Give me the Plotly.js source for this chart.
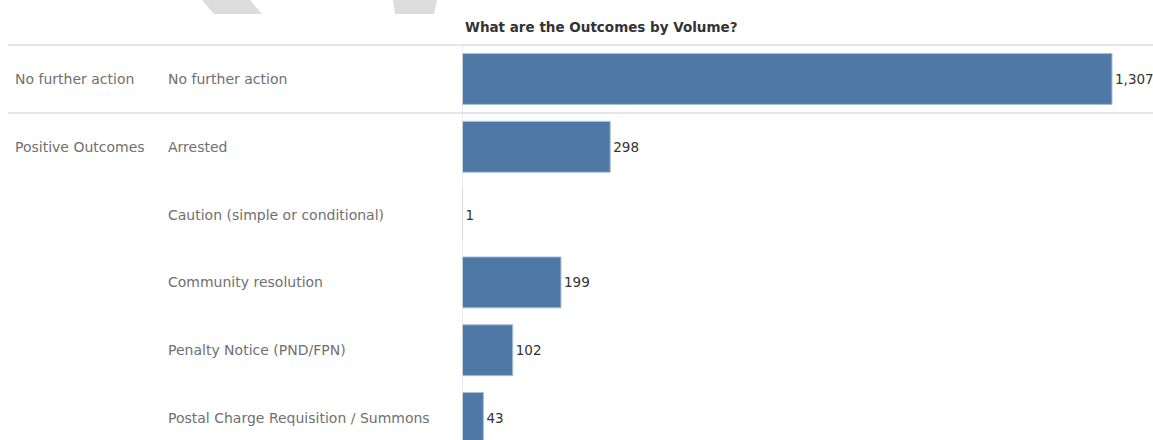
<!DOCTYPE html>
<html><head><meta charset="utf-8">
<script src="https://cdn.plot.ly/plotly-3.0.1.min.js"></script>
<style>html,body{margin:0;padding:0;background:#fff;}#chart{width:1153px;height:440px;}</style>
</head><body><div id="chart"></div>
<script>
const groups = ["No further action","Positive Outcomes","","","",""];
const outcomes = ["No further action","Arrested","Caution (simple or conditional)","Community resolution","Penalty Notice (PND/FPN)","Postal Charge Requisition / Summons"];
const volumes = [1307,298,1,199,102,43];
const chartTitle = "What are the Outcomes by Volume?";

const W=1153,H=440;
const px = v => v/W;
const py = v => 1 - v/H;
const labelFont = {family:'DejaVu Sans',size:14,color:'#707070'};

const annotations = [];
outcomes.forEach((o,i)=>{
  annotations.push({xref:'paper',yref:'y',x:px(166),y:i,text:o,showarrow:false,xanchor:'left',yanchor:'middle',font:labelFont});
  if(groups[i]) annotations.push({xref:'paper',yref:'y',x:px(13),y:i,text:groups[i],showarrow:false,xanchor:'left',yanchor:'middle',font:labelFont});
});
annotations.push({xref:'paper',yref:'paper',x:px(463),y:py(27),text:'<b>'+chartTitle+'</b>',showarrow:false,xanchor:'left',yanchor:'middle',font:{family:'DejaVu Sans',size:13.5,color:'#333'}});

const shapes = [
  {type:'line',xref:'paper',yref:'y',x0:px(8),x1:1,y0:-0.5,y1:-0.5,line:{color:'#dedede',width:1.5}},
  {type:'line',xref:'paper',yref:'y',x0:px(8),x1:1,y0:0.5,y1:0.5,line:{color:'#dedede',width:1.5}},
  {type:'line',xref:'x',yref:'y',x0:0,x1:0,y0:-0.5,y1:6,line:{color:'#e3e3e3',width:1.5}},
  {type:'path',xref:'paper',yref:'paper',path:`M ${px(202)} ${py(0)} L ${px(250)} ${py(0)} L ${px(262)} ${py(14)} L ${px(214)} ${py(14)} Z`,fillcolor:'#dcdcdc',line:{width:0}},
  {type:'path',xref:'paper',yref:'paper',path:`M ${px(393)} ${py(0)} L ${px(437)} ${py(0)} L ${px(434)} ${py(14)} L ${px(395)} ${py(14)} Z`,fillcolor:'#dcdcdc',line:{width:0}}
];

const pitch = 67.8, c0 = 79;
const data = [{
  type:'bar',orientation:'h',
  y: outcomes.map((o,i)=>i),
  x: volumes,
  width:0.75,
  marker:{color:'#4e79a7',line:{color:'#a9bdd3',width:1}},
  text: volumes.map(v=>v.toLocaleString('en-US')),
  textposition:'outside',
  constraintext:'none',
  cliponaxis:false,
  textfont:{family:'DejaVu Sans',size:13.5,color:'#333'},
  hoverinfo:'skip'
}];

const layout = {
  width:W,height:H,
  margin:{l:0,r:0,t:0,b:0},
  paper_bgcolor:'#fff',plot_bgcolor:'#fff',
  showlegend:false,
  xaxis:{domain:[462/W,1],range:[0,1307*691/650],showgrid:false,zeroline:false,showticklabels:false,ticks:'',fixedrange:true},
  yaxis:{range:[(H-c0)/pitch,-c0/pitch],showgrid:false,zeroline:false,showticklabels:false,ticks:'',fixedrange:true},
  annotations:annotations,
  shapes:shapes,
  bargap:0.25
};
Plotly.newPlot('chart',data,layout,{displayModeBar:false,staticPlot:true});
</script></body></html>
